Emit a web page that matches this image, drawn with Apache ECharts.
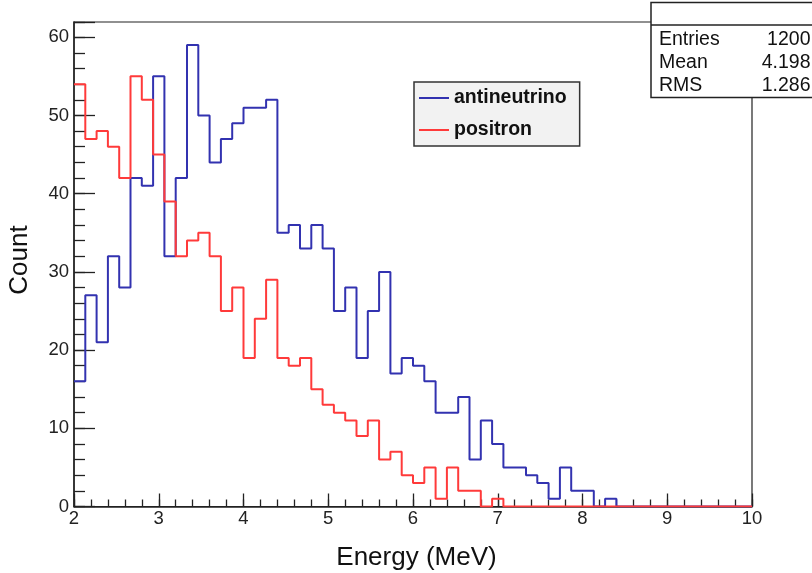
<!DOCTYPE html>
<html>
<head>
<meta charset="utf-8">
<script src="https://cdn.jsdelivr.net/npm/echarts@6/dist/echarts.min.js"></script>
<style>
html,body{margin:0;padding:0;background:#fff;}
#chart{width:812px;height:573px;}
</style>
</head>
<body>
<div id="chart"></div>
<script>
// ---- data ----
const binStart = 2;
const binEnd = 10;
const antineutrino = [16,27,21,32,28,42,41,55,32,42, 59,50,44,47,49,51,51,52,35,36,
                      33,36,33,25,28,19,25,30,17,19, 18,16,12,12,14,6,11,8,5,5,
                      4,3,1,5,2,2,0,1,0,0, 0,0,0,0,0,0,0,0,0,0];
const positron = [54,47,48,46,42,55,52,45,39,32, 34,35,32,25,28,19,24,29,19,18,
                  19,15,13,12,11,9,11,6,7,4, 3,5,1,5,2,2,0,1,0,0,
                  0,0,0,0,0,0,0,0,0,0, 0,0,0,0,0,0,0,0,0,0];
const seriesNames = ['antineutrino', 'positron'];
const statLabels = ['Entries', 'Mean', 'RMS'];
const statValues = ['1200', '4.198', '1.286'];
const xTickLabels = [2,3,4,5,6,7,8,9,10];
const yTickLabels = [0,10,20,30,40,50,60];
const axisTitleX = 'Energy (MeV)';
const axisTitleY = 'Count';

const nBins = antineutrino.length;
const binW = (binEnd - binStart) / nBins;
function toSteps(vals) {
  const pts = vals.map((v, i) => [binStart + i * binW, v]);
  pts.push([binEnd, vals[vals.length - 1]]);
  return pts;
}

const FONT = '"Liberation Sans", Arial, Helvetica, sans-serif';
const AX = '#222';
const yMax = 61.95;

const chart = echarts.init(document.getElementById('chart'), null, {renderer: 'canvas'});

const baseX = {
  type: 'value', min: binStart, max: binEnd, position: 'bottom',
  axisLine: {show: true, onZero: false, lineStyle: {color: AX, width: 1.5}},
  splitLine: {show: false}
};
const baseY = {
  type: 'value', min: 0, max: yMax, position: 'left',
  axisLine: {show: true, onZero: false, lineStyle: {color: AX, width: 1.5}},
  splitLine: {show: false}
};

const option = {
  animation: false,
  backgroundColor: '#fff',
  grid: {left: 74, right: 60, top: 22, bottom: 66.5, show: true, borderColor: AX, borderWidth: 1.2, backgroundColor: 'transparent'},
  xAxis: [
    Object.assign({}, baseX, {
      interval: 1,
      axisTick: {show: true, inside: true, length: 13, lineStyle: {color: AX, width: 1.3}},
      axisLabel: {show: true, margin: 3, color: '#222', fontFamily: FONT, fontSize: 18.5,
        formatter: v => (xTickLabels.indexOf(Math.round(v * 1000) / 1000) >= 0 ? String(Math.round(v)) : '')}
    }),
    Object.assign({}, baseX, {
      interval: 0.2,
      axisLine: {show: false},
      axisTick: {show: true, inside: true, length: 7, lineStyle: {color: AX, width: 1.3}},
      axisLabel: {show: false}
    })
  ],
  yAxis: [
    Object.assign({}, baseY, {
      interval: 10,
      axisTick: {show: true, inside: true, length: 21, lineStyle: {color: AX, width: 1.3}},
      axisLabel: {show: true, margin: 5, color: '#222', fontFamily: FONT, fontSize: 18.5,
        formatter: v => (yTickLabels.indexOf(Math.round(v * 1000) / 1000) >= 0 ? String(Math.round(v)) : '')}
    }),
    Object.assign({}, baseY, {
      interval: 2,
      axisLine: {show: false},
      axisTick: {show: true, inside: true, length: 11, lineStyle: {color: AX, width: 1.3}},
      axisLabel: {show: false}
    })
  ],
  legend: {
    show: true,
    orient: 'vertical',
    left: 414, top: 82,
    padding: [6, 13, 6, 5],
    itemGap: 12,
    itemWidth: 30, itemHeight: 2,
    icon: 'rect',
    backgroundColor: '#f2f2f2',
    borderColor: '#333', borderWidth: 1.5, borderRadius: 0,
    textStyle: {fontFamily: FONT, fontSize: 19.5, fontWeight: 'bold', color: '#111', lineHeight: 19},
    data: seriesNames,
    z: 50
  },
  series: [
    {
      name: seriesNames[0], type: 'line', step: 'end', symbol: 'none', showSymbol: false,
      xAxisIndex: 0, yAxisIndex: 0,
      lineStyle: {color: '#3232b0', width: 2}, itemStyle: {color: '#3232b0'},
      data: toSteps(antineutrino), z: 3
    },
    {
      name: seriesNames[1], type: 'line', step: 'end', symbol: 'none', showSymbol: false,
      xAxisIndex: 0, yAxisIndex: 0,
      lineStyle: {color: '#ff3a3a', width: 2}, itemStyle: {color: '#ff3a3a'},
      data: toSteps(positron), z: 4
    }
  ],
  graphic: [
    {type: 'rect', z: 100, shape: {x: 651, y: 2.5, width: 175, height: 95},
     style: {fill: '#fff', stroke: '#222', lineWidth: 1.5}},
    {type: 'line', z: 101, shape: {x1: 651, y1: 25, x2: 812, y2: 25},
     style: {stroke: '#222', lineWidth: 1.5}},
  ].concat(statLabels.map((s, i) => ({
    type: 'text', z: 102, x: 659, y: 40 + i * 23,
    style: {text: s, fontFamily: FONT, fontSize: 19.5, fill: '#111', textAlign: 'left', textVerticalAlign: 'middle'}
  }))).concat(statValues.map((s, i) => ({
    type: 'text', z: 102, x: 810.5, y: 40 + i * 23,
    style: {text: s, fontFamily: FONT, fontSize: 19.5, fill: '#111', textAlign: 'right', textVerticalAlign: 'middle'}
  }))).concat([
    {type: 'text', z: 102, x: 416.5, y: 558, 
     style: {text: axisTitleX, fontFamily: FONT, fontSize: 26, fill: '#111', textAlign: 'center', textVerticalAlign: 'middle'}},
    {type: 'text', z: 102, x: 20, y: 260, rotation: Math.PI / 2,
     style: {text: axisTitleY, fontFamily: FONT, fontSize: 26, fill: '#111', textAlign: 'center', textVerticalAlign: 'middle'}}
  ])
};
chart.setOption(option);
</script>
</body>
</html>
